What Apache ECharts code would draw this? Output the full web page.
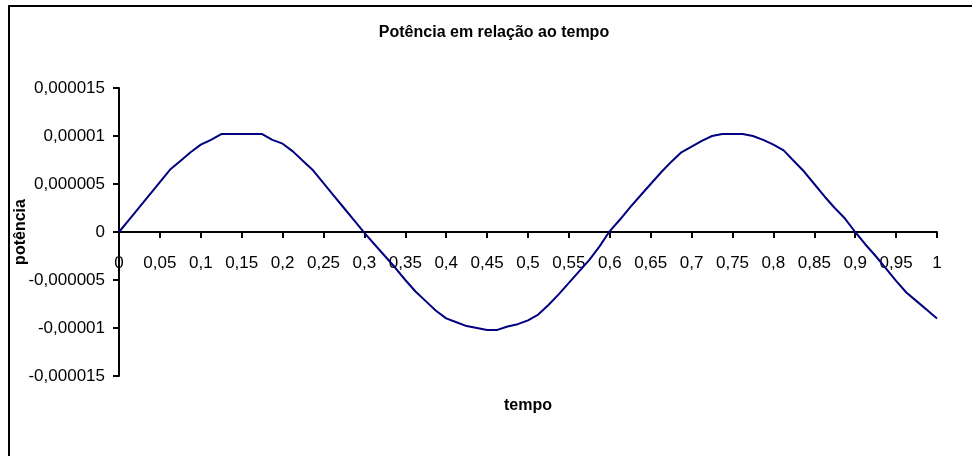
<!DOCTYPE html>
<html>
<head>
<meta charset="utf-8">
<script src="https://cdn.jsdelivr.net/npm/echarts@6/dist/echarts.min.js"></script>
<style>
  html, body { margin: 0; padding: 0; background: #fff; }
  #chart { width: 972px; height: 456px; }
</style>
</head>
<body>
<div id="chart"></div>
<script>
// tempo (s)
var tempo = [
  0, 0.0125, 0.025, 0.0375, 0.05, 0.0625, 0.075, 0.0875, 0.1, 0.1125,
  0.125, 0.1375, 0.15, 0.1625, 0.175, 0.1875, 0.2, 0.2125, 0.225, 0.2375,
  0.25, 0.2625, 0.275, 0.2875, 0.3, 0.3125, 0.325, 0.3375, 0.35, 0.3625,
  0.375, 0.3875, 0.4, 0.4125, 0.425, 0.4375, 0.45, 0.4625, 0.475, 0.4875,
  0.5, 0.5125, 0.525, 0.5375, 0.55, 0.5625, 0.575, 0.5875, 0.6, 0.6125,
  0.625, 0.6375, 0.65, 0.6625, 0.675, 0.6875, 0.7, 0.7125, 0.725, 0.7375,
  0.75, 0.7625, 0.775, 0.7875, 0.8, 0.8125, 0.825, 0.8375, 0.85, 0.8625,
  0.875, 0.8875, 0.9, 0.9125, 0.925, 0.9375, 0.95, 0.9625, 0.975, 0.9875,
  1
];
// potência
var potencia = [
  0, 1.3e-6, 2.6e-6, 3.9e-6, 5.2e-6, 6.5e-6, 7.4e-6, 8.3e-6, 9.1e-6, 9.6e-6,
  1.02e-5, 1.02e-5, 1.02e-5, 1.02e-5, 1.02e-5, 9.6e-6, 9.2e-6, 8.4e-6, 7.4e-6, 6.4e-6,
  5.1e-6, 3.8e-6, 2.5e-6, 1.2e-6, -0.1e-6, -1.3e-6, -2.5e-6, -3.7e-6, -5.0e-6, -6.2e-6,
  -7.2e-6, -8.2e-6, -9.0e-6, -9.4e-6, -9.8e-6, -1.0e-5, -1.02e-5, -1.02e-5, -9.85e-6, -9.6e-6,
  -9.2e-6, -8.6e-6, -7.6e-6, -6.5e-6, -5.3e-6, -4.1e-6, -2.9e-6, -1.5e-6, 0.1e-6, 1.3e-6,
  2.6e-6, 3.8e-6, 5.0e-6, 6.2e-6, 7.3e-6, 8.3e-6, 8.9e-6, 9.5e-6, 1.0e-5, 1.02e-5,
  1.02e-5, 1.02e-5, 1.0e-5, 9.6e-6, 9.1e-6, 8.5e-6, 7.4e-6, 6.3e-6, 5.0e-6, 3.7e-6,
  2.5e-6, 1.4e-6, 0, -1.3e-6, -2.5e-6, -3.8e-6, -5.1e-6, -6.3e-6, -7.2e-6, -8.1e-6,
  -9.0e-6
];

var font = 'Arial, "Liberation Sans", sans-serif';

function fmt(v, d) {
  var s = (+v.toFixed(d)).toString();
  if (s.indexOf('e') >= 0) s = (+v).toFixed(d).replace(/0+$/, '');
  if (s === '-0') s = '0';
  return s.replace('.', ',');
}

var myChart = echarts.init(document.getElementById('chart'));

var option = {
  animation: false,
  backgroundColor: '#fff',
  title: {
    text: 'Potência em relação ao tempo',
    left: 489,
    top: 20,
    textAlign: 'center',
    textStyle: { fontFamily: font, fontSize: 16, fontWeight: 'bold', color: '#000' }
  },
  graphic: [{
    type: 'rect',
    shape: { x: 9, y: 6, width: 2000, height: 2000 },
    style: { fill: 'none', stroke: '#000', lineWidth: 2 }
  }],
  grid: { left: 119, right: 35, top: 88, bottom: 80, containLabel: false, outerBoundsMode: 'none' },
  xAxis: {
    type: 'value',
    min: 0,
    max: 1,
    interval: 0.05,
    // eixo desenhado na linha do zero (metade da altura da grade)
    offset: -144,
    name: 'tempo',
    nameLocation: 'middle',
    nameGap: 166,
    nameMoveOverlap: false,
    nameTextStyle: { fontFamily: font, fontSize: 16, fontWeight: 'bold', color: '#000' },
    axisLine: { onZero: false, lineStyle: { color: '#000', width: 2 } },
    axisTick: { show: true, length: 6, lineStyle: { color: '#000', width: 2 } },
    axisLabel: {
      margin: 23,
      fontFamily: font,
      fontSize: 17,
      color: '#000',
      formatter: function (v) { return fmt(v, 2); }
    },
    splitLine: { show: false }
  },
  yAxis: {
    type: 'value',
    min: -0.000015,
    max: 0.000015,
    interval: 0.000005,
    name: 'potência',
    nameLocation: 'middle',
    nameRotate: 90,
    nameGap: 90,
    nameMoveOverlap: false,
    nameTextStyle: { fontFamily: font, fontSize: 16, fontWeight: 'bold', color: '#000' },
    axisLine: { show: true, onZero: false, lineStyle: { color: '#000', width: 2 } },
    axisTick: { show: true, length: 6, lineStyle: { color: '#000', width: 2 } },
    axisLabel: {
      margin: 14,
      fontFamily: font,
      fontSize: 17,
      color: '#000',
      formatter: function (v) { return fmt(v, 6); }
    },
    splitLine: { show: false }
  },
  series: [{
    type: 'line',
    data: tempo.map(function (t, i) { return [t, potencia[i]]; }),
    showSymbol: false,
    lineStyle: { color: '#000080', width: 2 }
  }]
};

myChart.setOption(option);
window.addEventListener('resize', function () {
  myChart.resize();
});
</script>
</body>
</html>
